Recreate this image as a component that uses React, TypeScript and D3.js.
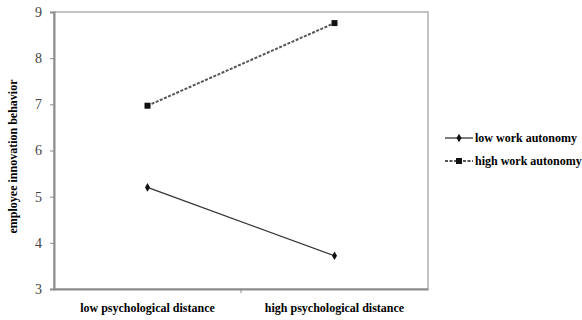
import { useEffect, useRef } from 'react'
import * as d3 from 'd3'

const categories = ['low psychological distance', 'high psychological distance']
const lowAutonomy = [5.2, 3.72]
const highAutonomy = [6.97, 8.76]
const yTicks = [3, 4, 5, 6, 7, 8, 9]
const seriesNames = ['low work autonomy', 'high work autonomy']

const App = () => {
  const ref = useRef<SVGSVGElement>(null)

  useEffect(() => {
    const width = 582
    const height = 320
    const left = 54, right = 428, top = 12, bottom = 289
    const svg = d3.select(ref.current)
    svg.selectAll('*').remove()
    svg.attr('width', width).attr('height', height)
      .attr('font-family', 'Liberation Serif, serif')

    const font = 'Liberation Serif, serif'
    const axisColor = '#8c8c8c'

    const x = d3.scaleBand().domain(categories).range([left, right]).padding(0)
    const y = d3.scaleLinear().domain([3, 9]).range([bottom, top])

    // plot frame
    svg.append('rect')
      .attr('x', left).attr('y', top)
      .attr('width', right - left).attr('height', bottom - top)
      .attr('fill', 'none').attr('stroke', '#b0b0b0').attr('stroke-width', 1.5)

    const yAxis = svg.append('g')
      .attr('transform', `translate(${left},0)`)
      .call(d3.axisLeft(y).tickValues(yTicks).tickSize(4).tickPadding(8).tickFormat(d3.format('d')))
    yAxis.attr('font-family', font).attr('font-size', 14)
    yAxis.select('.domain').attr('stroke', axisColor).attr('stroke-width', 2)
    yAxis.selectAll('.tick line').attr('stroke', axisColor)
    yAxis.selectAll('.tick text').attr('fill', '#444')

    const xAxis = svg.append('g')
      .attr('transform', `translate(0,${bottom})`)
      .call(d3.axisBottom(x).tickValues([]).tickSizeOuter(0))
    xAxis.select('.domain').attr('stroke', axisColor).attr('stroke-width', 2)
    // tick between categories
    svg.append('line')
      .attr('x1', x(categories[1])!).attr('x2', x(categories[1])!)
      .attr('y1', bottom).attr('y2', bottom + 4)
      .attr('stroke', axisColor)

    svg.selectAll('.xlabel')
      .data(categories)
      .enter()
      .append('text')
      .attr('x', d => x(d)! + x.bandwidth() / 2)
      .attr('y', 312)
      .attr('text-anchor', 'middle')
      .attr('font-family', font).attr('font-size', 12).attr('font-weight', 'bold')
      .text(d => d)

    svg.append('text')
      .attr('transform', `translate(17,${(top + bottom) / 2 + 6}) rotate(-90)`)
      .attr('text-anchor', 'middle')
      .attr('font-family', font).attr('font-size', 12).attr('font-weight', 'bold')
      .text('employee innovation behavior')

    const cx = (i: number) => x(categories[i])! + x.bandwidth() / 2
    const line = d3.line<number>().x((_, i) => cx(i)).y(d => y(d))

    svg.append('path')
      .datum(lowAutonomy)
      .attr('d', line)
      .attr('fill', 'none').attr('stroke', '#333').attr('stroke-width', 1.3)

    svg.append('path')
      .datum(highAutonomy)
      .attr('d', line)
      .attr('fill', 'none').attr('stroke', '#555').attr('stroke-width', 2)
      .attr('stroke-dasharray', '3,1.5')

    const diamond = d3.symbol().type(d3.symbolDiamond).size(22)
    const square = d3.symbol().type(d3.symbolSquare).size(36)

    svg.selectAll('.m1')
      .data(lowAutonomy)
      .enter()
      .append('path')
      .attr('transform', (d, i) => `translate(${cx(i)},${y(d)})`)
      .attr('d', diamond)
      .attr('fill', '#111')

    svg.selectAll('.m2')
      .data(highAutonomy)
      .enter()
      .append('path')
      .attr('transform', (d, i) => `translate(${cx(i)},${y(d)})`)
      .attr('d', square)
      .attr('fill', '#111')

    // legend
    const legend = svg.append('g').attr('transform', 'translate(445,138)')
    seriesNames.forEach((name, i) => {
      const g = legend.append('g').attr('transform', `translate(0,${i * 23})`)
      g.append('line')
        .attr('x1', 0).attr('x2', 28).attr('y1', 0).attr('y2', 0)
        .attr('stroke', i === 0 ? '#333' : '#555')
        .attr('stroke-width', i === 0 ? 1.3 : 2)
        .attr('stroke-dasharray', i === 0 ? null : '3,1.5')
      g.append('path')
        .attr('transform', 'translate(14,0)')
        .attr('d', i === 0 ? diamond : square)
        .attr('fill', '#111')
      g.append('text')
        .attr('x', 30).attr('y', 4)
        .attr('font-family', font).attr('font-size', 12).attr('font-weight', 'bold')
        .text(name)
    })
  }, [])

  return (
    <div style={{ position: 'absolute', left: 0, top: 0 }}>
      <svg ref={ref}></svg>
    </div>
  )
}

export default App
